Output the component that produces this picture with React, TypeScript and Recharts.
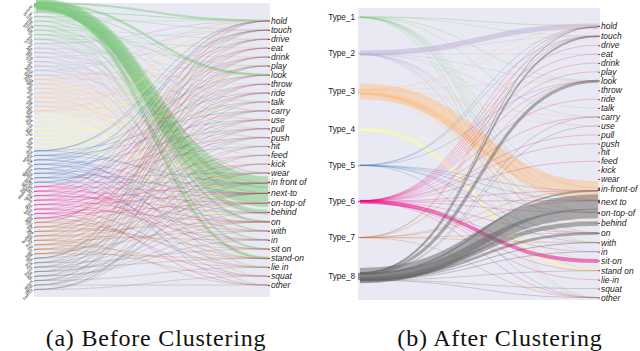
import React from 'react';
import { Sankey } from 'recharts';

const accent = ['#7fc97f', '#beaed4', '#fdc086', '#ffff99', '#386cb0', '#f0027f', '#bf5b17', '#666666'];

const predicatesA = ['hold', 'touch', 'drive', 'eat', 'drink', 'play', 'look', 'throw', 'ride', 'talk', 'carry', 'use', 'pull', 'push', 'hit', 'feed', 'kick', 'wear', 'in front of', 'next-to', 'on-top-of', 'behind', 'on', 'with', 'in', 'sit on', 'stand-on', 'lie in', 'squat', 'other'];
const predicatesB = ['hold', 'touch', 'drive', 'eat', 'drink', 'play', 'look', 'throw', 'ride', 'talk', 'carry', 'use', 'pull', 'push', 'hit', 'feed', 'kick', 'wear', 'in-front-of', 'next to', 'on-top-of', 'behind', 'on', 'with', 'in', 'sit-on', 'stand on', 'lie-in', 'squat', 'other'];

const objectNames = ['person', 'man', 'woman', 'child', 'dog', 'cat', 'horse', 'car', 'bike', 'table', 'chair', 'cup', 'bottle', 'phone', 'laptop', 'book', 'bag', 'ball', 'kite', 'bus', 'train', 'boat', 'plate', 'bowl', 'knife', 'fork', 'pizza', 'cake', 'tv', 'sofa', 'bed', 'door', 'window', 'shirt', 'hat', 'glasses', 'shoe', 'umbrella', 'surfboard', 'skateboard', 'skis', 'racket', 'bat', 'glove', 'bench', 'tree', 'grass', 'road', 'sign', 'light', 'building', 'wall', 'floor', 'sky', 'water', 'sand', 'snow', 'rock', 'fence', 'pole', 'tie', 'jacket', 'pants', 'helmet'];

// Panel (a): each left item -> [predicate index, value]
const greenLinks = [
  [[18, 12], [19, 12], [20, 9], [21, 5], [22, 2], [6, 2.5], [0, 2], [26, 3], [25, 1.5], [24, 1], [23, 1], [17, 1]],
  [[0, 1], [6, 0.8], [19, 0.6], [26, 0.5]],
  [[1, 0.6], [18, 0.5], [22, 0.6], [9, 0.4]],
  [[0, 0.5], [10, 0.4], [19, 0.5], [25, 0.4]],
  [[6, 0.6], [20, 0.4], [23, 0.5], [29, 0.3]],
  [[2, 0.4], [11, 0.5], [21, 0.5], [26, 0.4]],
  [[5, 0.4], [18, 0.5], [24, 0.4], [13, 0.3]],
  [[3, 0.4], [12, 0.4], [22, 0.5], [27, 0.3]],
];
const purpleLinks = [
  [[0, 0.8], [1, 0.5], [19, 0.5], [22, 0.4]],
  [[6, 0.5], [10, 0.4], [21, 0.4], [29, 0.3]],
  [[4, 0.4], [14, 0.3], [18, 0.5], [25, 0.4]],
  [[1, 0.5], [8, 0.4], [20, 0.4], [24, 0.3]],
  [[7, 0.4], [15, 0.3], [23, 0.4], [26, 0.4]],
  [[2, 0.3], [11, 0.4], [19, 0.5], [28, 0.3]],
  [[0, 0.5], [9, 0.3], [17, 0.4], [22, 0.4]],
  [[5, 0.4], [13, 0.3], [21, 0.4], [27, 0.3]],
];
const orangeLinks = [
  [[0, 0.6], [6, 0.5], [18, 0.4], [25, 0.3]],
  [[1, 0.4], [10, 0.4], [19, 0.5], [23, 0.3]],
  [[3, 0.4], [12, 0.3], [20, 0.4], [26, 0.4]],
  [[2, 0.3], [9, 0.4], [21, 0.4], [29, 0.3]],
  [[4, 0.4], [11, 0.3], [22, 0.5], [24, 0.3]],
  [[5, 0.3], [14, 0.3], [18, 0.4], [27, 0.3]],
  [[7, 0.3], [16, 0.3], [19, 0.4], [28, 0.3]],
  [[0, 0.4], [8, 0.3], [17, 0.4], [25, 0.3]],
];
const yellowLinks = [
  [[1, 0.4], [6, 0.4], [19, 0.4], [26, 0.3]],
  [[0, 0.4], [11, 0.3], [20, 0.4], [22, 0.3]],
  [[3, 0.3], [10, 0.3], [18, 0.4], [24, 0.3]],
  [[2, 0.3], [13, 0.3], [21, 0.3], [29, 0.3]],
  [[5, 0.3], [9, 0.3], [19, 0.4], [25, 0.3]],
  [[4, 0.3], [15, 0.3], [23, 0.3], [26, 0.3]],
  [[6, 0.3], [12, 0.3], [22, 0.4], [28, 0.2]],
  [[7, 0.3], [17, 0.3], [20, 0.3], [27, 0.3]],
];
const blueLinks = [
  [[0, 0.6], [1, 0.5], [10, 0.4], [19, 0.4]],
  [[6, 0.5], [11, 0.4], [18, 0.4], [26, 0.3]],
  [[2, 0.4], [8, 0.4], [20, 0.4], [23, 0.3]],
  [[1, 0.4], [12, 0.4], [21, 0.3], [25, 0.3]],
  [[3, 0.3], [9, 0.4], [22, 0.4], [29, 0.3]],
  [[4, 0.3], [13, 0.3], [19, 0.4], [24, 0.3]],
  [[0, 0.4], [14, 0.3], [17, 0.3], [27, 0.3]],
  [[5, 0.3], [7, 0.3], [18, 0.3], [28, 0.3]],
];
const pinkLinks = [
  [[0, 0.5], [6, 0.4], [19, 0.5], [25, 0.4]],
  [[1, 0.5], [10, 0.4], [20, 0.4], [26, 0.4]],
  [[2, 0.4], [11, 0.4], [21, 0.4], [22, 0.4]],
  [[3, 0.4], [12, 0.3], [18, 0.4], [23, 0.4]],
  [[4, 0.4], [13, 0.3], [19, 0.4], [24, 0.4]],
  [[5, 0.4], [15, 0.3], [22, 0.4], [27, 0.3]],
  [[7, 0.3], [16, 0.3], [20, 0.4], [29, 0.4]],
  [[8, 0.3], [9, 0.3], [17, 0.4], [28, 0.3]],
];
const brownLinks = [
  [[0, 0.4], [1, 0.4], [18, 0.4], [26, 0.3]],
  [[6, 0.4], [10, 0.3], [19, 0.4], [25, 0.3]],
  [[2, 0.3], [11, 0.3], [20, 0.3], [22, 0.4]],
  [[3, 0.3], [12, 0.3], [21, 0.3], [24, 0.3]],
  [[4, 0.3], [13, 0.3], [23, 0.3], [29, 0.3]],
  [[5, 0.3], [14, 0.3], [19, 0.3], [27, 0.3]],
  [[7, 0.3], [15, 0.3], [22, 0.3], [28, 0.3]],
  [[8, 0.3], [16, 0.3], [17, 0.3], [26, 0.3]],
];
const grayLinks = [
  [[0, 0.5], [1, 0.5], [6, 0.4], [19, 0.4]],
  [[2, 0.4], [10, 0.4], [18, 0.4], [25, 0.3]],
  [[3, 0.3], [11, 0.4], [20, 0.4], [26, 0.3]],
  [[4, 0.3], [12, 0.3], [21, 0.4], [22, 0.4]],
  [[5, 0.3], [13, 0.3], [23, 0.3], [24, 0.4]],
  [[7, 0.3], [9, 0.3], [19, 0.3], [27, 0.3]],
  [[8, 0.3], [14, 0.3], [17, 0.3], [29, 0.4]],
  [[15, 0.3], [16, 0.3], [18, 0.3], [28, 0.3]],
];

// Panel (b): cluster types -> [predicate index, value]
const typeNames = ['Type_1', 'Type_2', 'Type_3', 'Type_4', 'Type_5', 'Type_6', 'Type_7', 'Type_8'];
const type1Links = [[0, 0.4], [1, 0.2], [6, 0.3], [10, 0.1], [18, 0.3], [19, 0.3], [20, 0.2], [21, 0.2], [22, 0.2], [23, 0.1], [26, 0.2], [29, 0.1]];
const type2Links = [[0, 3], [1, 0.3], [3, 0.1], [6, 0.3], [9, 0.1], [11, 0.2], [18, 0.3], [19, 0.4], [20, 0.2], [22, 0.3], [24, 0.2], [25, 0.1], [29, 0.2]];
const type3Links = [[0, 0.3], [1, 0.2], [6, 0.3], [10, 0.3], [11, 0.2], [18, 9], [19, 1.5], [20, 1], [21, 0.6], [22, 0.4], [23, 0.4], [26, 0.2], [29, 0.2]];
const type4Links = [[0, 0.1], [6, 0.1], [18, 0.2], [19, 0.2], [22, 0.1], [25, 0.3], [26, 1.5], [27, 0.2]];
const type5Links = [[0, 0.1], [1, 0.1], [6, 0.1], [18, 0.2], [19, 0.2], [20, 0.1], [22, 0.1], [23, 0.1], [29, 0.1]];
const type6Links = [[0, 0.2], [1, 0.2], [2, 0.1], [3, 0.1], [4, 0.1], [5, 0.1], [6, 0.2], [8, 0.1], [10, 0.1], [12, 0.1], [13, 0.1], [15, 0.1], [18, 0.2], [19, 0.2], [20, 0.2], [22, 0.2], [24, 0.1], [25, 2.2], [26, 0.2], [27, 0.1], [29, 0.2]];
const type7Links = [[0, 0.1], [1, 0.1], [6, 0.1], [18, 0.1], [19, 0.2], [22, 0.2], [23, 0.1], [29, 0.1]];
const type8Links = [[0, 0.5], [1, 1], [6, 1.8], [10, 0.3], [11, 0.3], [18, 1], [19, 8.5], [20, 5.5], [21, 2.5], [22, 1.5], [23, 0.5], [24, 0.4], [26, 0.3], [28, 0.3], [29, 0.3]];

const groupsA = [greenLinks, purpleLinks, orangeLinks, yellowLinks, blueLinks, pinkLinks, brownLinks, grayLinks];
const groupsB = [type1Links, type2Links, type3Links, type4Links, type5Links, type6Links, type7Links, type8Links];

type NodeT = { name: string; kind: string; group?: number };
type LinkT = { source: number; target: number; value: number; color: string };

function addRightColumn(nodes: NodeT[], names: string[], lead: number): number[] {
  const idx: number[] = [];
  for (let s = 0; s < lead; s++) nodes.push({ name: '', kind: 'spacer' });
  names.forEach((p, i) => {
    idx.push(nodes.length);
    nodes.push({ name: p, kind: 'right' });
    if (i < names.length - 1) nodes.push({ name: '', kind: 'spacer' });
  });
  return idx;
}

function buildA() {
  const nodes: NodeT[] = [];
  const links: LinkT[] = [];
  const leftIdx: number[][] = [];
  groupsA.forEach((grp, g) => {
    leftIdx.push(grp.map(() => {
      const i = nodes.length;
      nodes.push({ name: objectNames[i], kind: 'left', group: g });
      return i;
    }));
  });
  const right = addRightColumn(nodes, predicatesA, 4);
  groupsA.forEach((grp, g) => grp.forEach((pairs, j) => pairs.forEach(([t, v]) => {
    links.push({ source: leftIdx[g][j], target: right[t], value: v, color: accent[g] });
  })));
  return { nodes, links };
}

function buildB() {
  const nodes: NodeT[] = [];
  const leftSpacers: number[] = [];
  const typeIdx: number[] = [];
  const sp = () => { leftSpacers.push(nodes.length); nodes.push({ name: '', kind: 'spacer' }); };
  sp(); sp();
  typeNames.forEach((t, g) => {
    typeIdx.push(nodes.length);
    nodes.push({ name: t, kind: 'type', group: g });
    if (g < typeNames.length - 1) for (let k = 0; k < 7; k++) sp();
  });
  const right = addRightColumn(nodes, predicatesB, 4);
  const links: LinkT[] = [];
  leftSpacers.forEach((s) => links.push({ source: s, target: right[0], value: 0, color: 'none' }));
  groupsB.forEach((pairs, g) => pairs.forEach(([t, v]) => {
    links.push({ source: typeIdx[g], target: right[t], value: v, color: accent[g] });
  }));
  return { nodes, links };
}

const dataA = buildA();
const dataB = buildB();

const makeLink = (K: number, opacity: number) => (props: any) => {
  const { sourceX, targetX, sourceY, targetY, sourceControlX, targetControlX, linkWidth, payload } = props;
  if (!payload || !payload.value) return <g />;
  return (
    <path
      d={`M${sourceX},${sourceY}C${sourceControlX},${sourceY} ${targetControlX},${targetY} ${targetX},${targetY}`}
      fill="none"
      stroke={payload.color}
      strokeOpacity={opacity}
      strokeWidth={Math.max(0.45, linkWidth * K)}
    />
  );
};

const LinkA = makeLink(11.4, 0.5);
const LinkB = makeLink(6, 0.5);

const NodeA = (props: any) => {
  const { x, y, width, height, payload } = props;
  if (!payload || payload.kind === 'spacer') return <g />;
  const cy = y + height / 2;
  if (payload.kind === 'left') {
    return (
      <g>
        <rect x={x} y={y} width={width} height={Math.max(height, 0.8)} fill={accent[payload.group]} />
        <text transform={`translate(${x - 2},${cy}) rotate(-50)`} textAnchor="end" dominantBaseline="central" fontSize={4.3} fill="#222" fontFamily="Liberation Sans">{payload.name}</text>
      </g>
    );
  }
  return (
    <g>
      <rect x={x} y={y} width={width} height={Math.max(height, 1)} fill="#7a2a3a" />
      <text x={x + width + 1} y={cy} dominantBaseline="central" fontSize={8.5} fontStyle="italic" fill="#222" fontFamily="Liberation Sans">{payload.name}</text>
    </g>
  );
};

const NodeB = (props: any) => {
  const { x, y, width, height, payload } = props;
  if (!payload || payload.kind === 'spacer') return <g />;
  const cy = y + height / 2;
  if (payload.kind === 'type') {
    return (
      <g>
        <rect x={x} y={y} width={width} height={Math.max(height, 0.8)} fill={accent[payload.group]} fillOpacity={0.7} />
        <text x={x - 3} y={cy} textAnchor="end" dominantBaseline="central" fontSize={8.2} fill="#222" fontFamily="Liberation Sans">{payload.name}</text>
      </g>
    );
  }
  return (
    <g>
      <rect x={x} y={y} width={width} height={Math.max(height, 1)} fill="#9a3a52" />
      <text x={x + width + 1} y={cy} dominantBaseline="central" fontSize={8.5} fontStyle="italic" fill="#222" fontFamily="Liberation Sans">{payload.name}</text>
    </g>
  );
};

const H_A = 286.5;
const H_B = 289.8;

export default function App() {
  return (
    <div style={{ position: 'absolute', left: 0, top: 0, width: 640, height: 351, background: '#fff', overflow: 'hidden' }}>
      <div style={{ position: 'absolute', left: 34, top: 3, width: 236, height: 294, background: '#e8e9f2' }} />
      <div style={{ position: 'absolute', left: 358, top: 8, width: 242, height: 292, background: '#e8e9f2' }} />
      <div style={{ position: 'absolute', left: 0, top: 0 }}>
        <Sankey
          width={320}
          height={310}
          data={dataA}
          margin={{ top: 3, left: 34, right: 50, bottom: 310 - 3 - H_A }}
          nodePadding={4.35}
          nodeWidth={2}
          iterations={0}
          sort={false}
          link={LinkA}
          node={NodeA}
        />
      </div>
      <div style={{ position: 'absolute', left: 320, top: 0 }}>
        <Sankey
          width={320}
          height={310}
          data={dataB}
          margin={{ top: 8, left: 38, right: 40, bottom: 310 - 8 - H_B }}
          nodePadding={4.4}
          nodeWidth={2}
          iterations={0}
          sort={false}
          link={LinkB}
          node={NodeB}
        />
      </div>
      <div style={{ position: 'absolute', left: 0, width: 312, top: 326, textAlign: 'center', fontFamily: 'Liberation Serif', fontSize: 24, letterSpacing: 0.8, lineHeight: '24px', color: '#111' }}>
        (a) Before Clustering
      </div>
      <div style={{ position: 'absolute', left: 340, width: 320, top: 326, textAlign: 'center', fontFamily: 'Liberation Serif', fontSize: 24, letterSpacing: 0.8, lineHeight: '24px', color: '#111' }}>
        (b) After Clustering
      </div>
    </div>
  );
}
